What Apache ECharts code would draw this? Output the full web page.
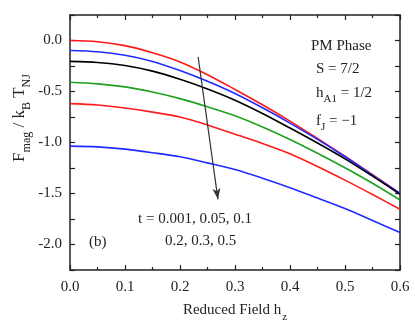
<!DOCTYPE html>
<html>
<head>
<meta charset="utf-8">
<script src="https://cdn.jsdelivr.net/npm/echarts@6/dist/echarts.min.js"></script>
<style>
  html, body { margin: 0; padding: 0; background: #fff; }
  #chart { width: 415px; height: 332px; }
</style>
</head>
<body>
<div id="chart"></div>
<script>
// reduced field h_z
const hValues = [0, 0.05, 0.1, 0.15, 0.2, 0.25, 0.3, 0.35, 0.4, 0.45, 0.5, 0.55, 0.6];

// F_mag / k_B T_NJ for each t
const tNames = ['t = 0.001', 't = 0.05', 't = 0.1', 't = 0.2', 't = 0.3', 't = 0.5'];
const f_t0001 = [0, -0.012, -0.05, -0.12, -0.21, -0.335, -0.48, -0.63, -0.79, -0.96, -1.135, -1.315, -1.5];
const f_t005 = [-0.098, -0.11, -0.145, -0.205, -0.295, -0.4, -0.52, -0.66, -0.81, -0.97, -1.14, -1.32, -1.5];
const f_t01 = [-0.205, -0.215, -0.245, -0.3, -0.38, -0.475, -0.585, -0.715, -0.858, -1.005, -1.16, -1.33, -1.508];
const f_t02 = [-0.41, -0.425, -0.455, -0.505, -0.57, -0.65, -0.738, -0.848, -0.97, -1.105, -1.248, -1.4, -1.564];
const f_t03 = [-0.619, -0.632, -0.662, -0.702, -0.75, -0.828, -0.918, -1.01, -1.11, -1.235, -1.369, -1.51, -1.655];
const f_t05 = [-1.036, -1.043, -1.065, -1.1, -1.14, -1.2, -1.265, -1.35, -1.443, -1.545, -1.648, -1.765, -1.883];
const allSeries = [f_t0001, f_t005, f_t01, f_t02, f_t03, f_t05];
const colors = ['#ff1a1a', '#1f2bff', '#000000', '#1ea01e', '#ff1a1a', '#1f2bff'];

// y tick labels
const yLabelValues = [-2.0, -1.5, -1.0, -0.5, 0.0];

// arrow showing increasing t
const arrowStart = [0.233, -0.162];
const arrowEnd = [0.269, -1.557];

const serif = '"Liberation Serif", "DejaVu Serif", serif';
const axisColor = '#222';

const chart = echarts.init(document.getElementById('chart'));

const seriesList = allSeries.map((vals, i) => ({
  name: tNames[i],
  type: 'line',
  data: vals.map((v, j) => [hValues[j], v]),
  smooth: 0.3,
  symbol: 'none',
  lineStyle: { color: colors[i], width: 1.6 },
  z: 3 + (i === 2 ? 1 : 0)
}));

seriesList.push({
  type: 'line',
  data: [],
  markLine: {
    silent: true,
    symbol: ['none', 'arrow'],
    symbolSize: [6, 11],
    label: { show: false },
    lineStyle: { color: '#333', width: 1.2, type: 'solid' },
    data: [[{ coord: arrowStart }, { coord: arrowEnd }]]
  }
});

const lineStyle = { onZero: false, lineStyle: { color: axisColor, width: 1.5 } };
const tickStyle = { inside: true, length: 5, lineStyle: { color: axisColor, width: 1.2 } };
const minorStyle = { show: true, splitNumber: 2, length: 3, lineStyle: { color: axisColor, width: 1.2 } };

const option = {
  animation: false,
  backgroundColor: '#fff',
  grid: { left: 70, right: 15, top: 15, bottom: 62 },
  xAxis: [
    {
      type: 'value', min: 0, max: 0.6, interval: 0.1, position: 'bottom',
      axisLine: lineStyle,
      axisTick: tickStyle,
      minorTick: minorStyle,
      splitLine: { show: false },
      axisLabel: {
        color: '#222', fontFamily: serif, fontSize: 15, margin: 10,
        formatter: v => v.toFixed(1)
      },
      name: 'Reduced Field h{sub|z}',
      nameLocation: 'middle',
      nameGap: 28,
      nameTextStyle: {
        color: '#222', fontFamily: serif, fontSize: 15,
        rich: { sub: { fontFamily: serif, fontSize: 11, padding: [14, 0, 0, 1] } }
      }
    },
    {
      type: 'value', min: 0, max: 0.6, interval: 0.1, position: 'top',
      axisLine: lineStyle,
      axisTick: tickStyle,
      minorTick: minorStyle,
      splitLine: { show: false },
      axisLabel: { show: false }
    }
  ],
  yAxis: [
    {
      type: 'value', min: -2.25, max: 0.25, interval: 0.25, position: 'left',
      axisLine: lineStyle,
      axisTick: tickStyle,
      splitLine: { show: false },
      axisLabel: {
        color: '#222', fontFamily: serif, fontSize: 15, margin: 8,
        formatter: v => yLabelValues.some(y => Math.abs(y - v) < 1e-6) ? v.toFixed(1) : ''
      }
    },
    {
      type: 'value', min: -2.25, max: 0.25, interval: 0.25, position: 'right',
      axisLine: lineStyle,
      axisTick: tickStyle,
      splitLine: { show: false },
      axisLabel: { show: false }
    }
  ],
  graphic: [
    {
      type: 'text', x: 20, y: 118, rotation: Math.PI / 2,
      style: {
        text: 'F{sub|mag} / k{sub|B} T{sub|NJ}',
        fill: '#222', font: '17px ' + serif,
        align: 'center', verticalAlign: 'middle',
        rich: { sub: { fontFamily: serif, fontSize: 12, padding: [14, 0, 0, 0] } }
      }
    },
    {
      type: 'text', x: 311, y: 39,
      style: { text: 'PM Phase', fill: '#222', font: '15px ' + serif }
    },
    {
      type: 'text', x: 316, y: 62,
      style: { text: 'S = 7/2', fill: '#222', font: '15px ' + serif }
    },
    {
      type: 'text', x: 316, y: 82,
      style: {
        text: 'h{sub|A1} = 1/2', fill: '#222', font: '15px ' + serif,
        rich: { sub: { fontFamily: serif, fontSize: 11, padding: [12, 0, 0, 0] } }
      }
    },
    {
      type: 'text', x: 316, y: 110,
      style: {
        text: 'f{sub|J} = \u22121', fill: '#222', font: '15px ' + serif,
        rich: { sub: { fontFamily: serif, fontSize: 11, padding: [12, 0, 0, 0] } }
      }
    },
    {
      type: 'text', x: 138, y: 212,
      style: { text: 't = 0.001, 0.05, 0.1', fill: '#222', font: '15px ' + serif }
    },
    {
      type: 'text', x: 165, y: 234,
      style: { text: '0.2, 0.3, 0.5', fill: '#222', font: '15px ' + serif }
    },
    {
      type: 'text', x: 89, y: 235,
      style: { text: '(b)', fill: '#222', font: '15px ' + serif }
    }
  ],
  series: seriesList
};

chart.setOption(option);
</script>
</body>
</html>
